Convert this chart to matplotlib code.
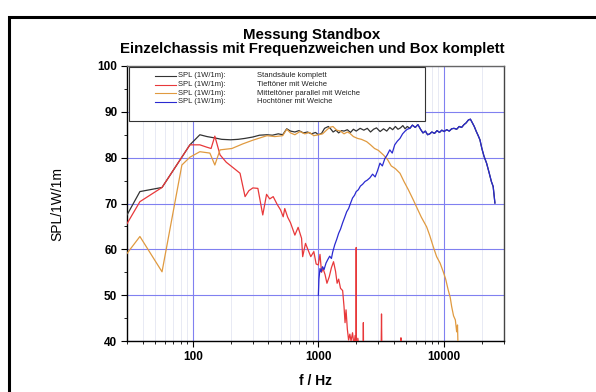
import matplotlib
matplotlib.use("Agg")
import matplotlib.pyplot as plt
from matplotlib.patches import Rectangle
from matplotlib.ticker import FixedLocator, LogLocator, NullFormatter

plt.rcParams["font.family"] = ["Liberation Sans", "DejaVu Sans"]

# --- data ----------------------------------------------------------------
f_komplett = [30, 38, 57, 95, 114, 130, 150, 170, 200, 230, 260, 300, 340, 390,
              430, 480, 520, 560, 600, 650, 700, 760, 820, 880, 950, 1000, 1060,
              1120, 1200, 1260, 1310, 1380, 1450, 1530, 1600, 1700, 1800, 1900,
              2000, 2150, 2300, 2450, 2600, 2750, 2900, 3100, 3300, 3500, 3700,
              3900, 4100, 4300, 4500, 4700, 4900, 5100, 5350, 5600, 5900, 6200,
              6500, 6800, 7100, 7400, 7700, 8000, 8400, 8800, 9200, 9600, 10000,
              10500, 11000, 11500, 12000, 12600, 13200, 13800, 14400, 15000,
              15600, 16200, 16800, 17400, 18000, 18700, 19300, 20000, 20800,
              21800, 22800, 23800, 24600, 25400]
spl_komplett = [67.5, 72.6, 73.5, 82.8, 85.0, 84.6, 84.3, 84.0, 83.9, 84.0, 84.2,
                84.5, 84.9, 85.0, 84.9, 85.2, 85.0, 86.3, 85.8, 85.6, 85.9, 85.4,
                85.6, 85.2, 85.5, 85.0, 85.3, 86.4, 86.8, 86.2, 85.6, 86.0, 85.4,
                85.9, 85.8, 86.1, 85.5, 86.2, 85.8, 86.4, 86.0, 86.4, 85.6, 86.2,
                86.5, 85.7, 86.3, 85.8, 86.6, 86.1, 86.8, 86.2, 86.5, 87.0, 86.3,
                86.8, 86.4, 87.1, 86.6, 87.2, 86.2, 85.4, 85.8, 85.0, 85.2, 85.6,
                85.3, 85.9, 85.5, 86.0, 85.7, 86.1, 85.8, 86.3, 86.4, 86.2, 86.8,
                86.6, 87.2, 87.6, 88.2, 88.4, 87.6, 86.8, 85.8, 84.8, 83.9, 82.0,
                80.3, 78.8, 76.8, 74.8, 73.7, 70.1]

f_tief = [30, 38, 57, 95, 114, 129, 140, 150, 165, 185, 210, 238, 261, 280, 301,
          330, 361, 387, 410, 437, 470, 500, 525, 540, 570, 600, 650, 690, 735,
          750, 790, 830, 870, 920, 960, 998, 1030, 1060, 1090, 1130, 1170, 1220,
          1270, 1320, 1370, 1410, 1450, 1500, 1560, 1600, 1630, 1660, 1700, 1740,
          1780, 1820, 1870, 1920, 1960, 1990, 2000, 2010, 2060, 2120, 2200, 2270,
          2280, 2290, 2400, 2600, 2900, 3150, 3180, 3210, 3500, 4000, 4500, 4540,
          4580, 5000]
spl_tief = [65.6, 70.4, 73.5, 82.8, 82.8, 82.3, 82.0, 84.7, 80.6, 79.0, 77.8,
            76.6, 71.5, 72.8, 73.4, 73.3, 67.5, 72.0, 71.0, 71.5, 69.8, 68.6,
            67.1, 68.9, 67.0, 65.8, 63.1, 64.8, 62.4, 58.4, 61.3, 59.8, 58.4,
            59.5, 56.8, 56.6, 58.9, 55.0, 55.8, 54.5, 52.6, 54.0, 56.0, 57.3,
            55.2, 52.6, 53.5, 51.5, 51.0, 47.5, 44.0, 46.8, 42.6, 40.2, 41.5,
            40.0, 41.8, 39.0, 41.2, 30.0, 60.4, 30.0, 40.6, 38.0, 36.0, 35.0,
            44.0, 35.0, 34.0, 33.0, 34.0, 35.0, 45.9, 35.0, 33.0, 34.0, 36.0,
            40.7, 36.0, 34.0]

f_mittel = [30, 38, 57, 82, 95, 114, 137, 150, 165, 205, 250, 300, 390, 450, 520,
            560, 600, 650, 713, 780, 850, 920, 1000, 1080, 1160, 1230, 1306, 1400,
            1500, 1600, 1700, 1783, 1900, 2050, 2200, 2420, 2600, 2800, 3000,
            3290, 3550, 3800, 4100, 4460, 4800, 5200, 5690, 6100, 6600, 7270,
            7700, 8200, 8730, 9300, 9860, 10300, 10800, 11200, 11500, 11900,
            12300, 12600, 12800, 12900, 13000]
spl_mittel = [59.1, 62.8, 55.1, 78.4, 80.1, 81.3, 81.0, 78.4, 81.7, 82.0, 83.0,
              83.8, 84.8, 84.6, 84.8, 86.2, 85.4, 85.0, 85.7, 85.2, 85.5, 84.8,
              85.0, 85.2, 86.0, 86.6, 86.8, 86.0, 85.8, 85.2, 85.6, 85.3, 84.6,
              84.2, 84.0, 83.5, 82.8, 82.0, 81.6, 80.6, 79.6, 78.2, 77.6, 76.6,
              74.8, 73.0, 70.8, 69.0, 67.0, 64.9, 63.0, 60.6, 58.4, 57.0, 55.1,
              53.5, 51.1, 49.5, 47.5, 45.5, 44.6, 42.0, 43.5, 39.5, 38.0]

f_hoch = [1000, 1010, 1030, 1050, 1080, 1110, 1150, 1190, 1230, 1270, 1300, 1350,
          1400, 1450, 1500, 1560, 1620, 1680, 1740, 1800, 1870, 1940, 2000, 2080,
          2160, 2250, 2350, 2450, 2570, 2700, 2830, 2960, 3090, 3230, 3380, 3530,
          3700, 3870, 4050, 4250, 4460, 4680, 4900, 5100, 5350, 5600, 5900, 6200,
          6500, 6800, 7100, 7400, 7700, 8000, 8400, 8800, 9200, 9600, 10000,
          10500, 11000, 11500, 12000, 12600, 13200, 13800, 14400, 15000, 15600,
          16200, 16800, 17400, 18000, 18700, 19300, 20000, 20800, 21800, 22800,
          23800, 24600, 25400]
spl_hoch = [50.0, 53.5, 55.8, 55.1, 56.2, 55.6, 57.0, 57.8, 58.5, 58.0, 59.4,
            61.0, 62.2, 63.5, 64.4, 65.8, 67.0, 68.2, 68.9, 70.0, 71.2, 71.8,
            72.6, 73.0, 73.8, 74.2, 74.8, 75.1, 75.6, 76.4, 75.8, 77.2, 78.8,
            78.2, 79.8, 80.6, 81.7, 81.0, 82.8, 83.6, 84.2, 85.2, 85.8, 86.2,
            86.4, 87.1, 86.6, 87.2, 86.2, 85.4, 85.8, 85.0, 85.2, 85.6, 85.3,
            85.9, 85.5, 86.0, 85.7, 86.1, 85.8, 86.3, 86.4, 86.2, 86.8, 86.6,
            87.2, 87.6, 88.2, 88.4, 87.6, 86.8, 85.8, 84.8, 83.9, 82.0, 80.3,
            78.8, 76.8, 74.8, 73.7, 70.1]

series = [
    (f_komplett, spl_komplett, "#333333", "Standsäule komplett"),
    (f_tief, spl_tief, "#e8383a", "Tieftöner mit Weiche"),
    (f_mittel, spl_mittel, "#e09a40", "Mitteltöner parallel mit Weiche"),
    (f_hoch, spl_hoch, "#2a2ad0", "Hochtöner mit Weiche"),
]
spl_label = "SPL (1W/1m):"

# --- figure ----------------------------------------------------------------
W, H = 596, 392
fig = plt.figure(figsize=(W / 100, H / 100), dpi=100)

# outer black frame (left/top visible, rest runs off the picture)
fig.patches.append(Rectangle((9 / W, -0.1), 1.2, 1 - 17 / H + 0.1,
                             transform=fig.transFigure, fill=False,
                             edgecolor="black", linewidth=2.2))

ax = fig.add_axes([127 / W, 1 - 341 / H, 377 / W, 275 / H])

for f, spl, color, _ in series:
    ax.plot(f, spl, color=color, linewidth=0.9, zorder=3)

ax.set_xscale("log")
ax.set_xlim(30, 30000)
ax.set_ylim(40, 100)
ax.xaxis.set_major_locator(FixedLocator([100, 1000, 10000]))
ax.xaxis.set_major_formatter(plt.FuncFormatter(lambda v, p: f"{v:.0f}"))
ax.xaxis.set_minor_locator(LogLocator(base=10, subs=range(2, 10)))
ax.xaxis.set_minor_formatter(NullFormatter())
ax.yaxis.set_major_locator(FixedLocator(range(40, 101, 10)))
ax.yaxis.set_minor_locator(FixedLocator(range(45, 100, 10)))

ax.grid(which="major", color="#8080f0", linewidth=0.8, zorder=1)
ax.grid(which="minor", axis="x", color="#e4e6f2", linewidth=0.6, zorder=0)
ax.set_axisbelow(True)

ax.tick_params(which="major", direction="out", length=4, width=0.8,
               labelsize=8.5, pad=3)
ax.tick_params(which="minor", direction="out", length=2.5, width=0.6)
for lab in ax.get_xticklabels() + ax.get_yticklabels():
    lab.set_fontweight("bold")
for s in ax.spines.values():
    s.set_linewidth(1.0)
ax.spines["top"].set_color("#666666")
ax.spines["right"].set_color("#444444")

ax.set_xlabel("f / Hz", fontsize=10, fontweight="bold", labelpad=8)
ax.set_ylabel("SPL/1W/1m", fontsize=10, labelpad=24)

fig.text(312 / W, 1 - 35 / H, "Messung Standbox", ha="center", va="center",
         fontsize=10.8, fontweight="bold")
fig.text(312 / W, 1 - 49 / H,
         "Einzelchassis mit Frequenzweichen und Box komplett",
         ha="center", va="center", fontsize=10.8, fontweight="bold")

# --- legend box (drawn by hand to get the two text columns) ---------------
ax.add_patch(Rectangle((0.005, 0.80), 0.785, 0.195, transform=ax.transAxes,
                       facecolor="white", edgecolor="#333333", linewidth=0.8,
                       zorder=5))
row_y = [0.965, 0.932, 0.901, 0.870]
for (f, spl, color, desc), y in zip(series, row_y):
    ax.plot([0.074, 0.130], [y, y], color=color, linewidth=0.8,
            transform=ax.transAxes, zorder=6)
    ax.text(0.134, y, spl_label, transform=ax.transAxes, fontsize=5.5,
            va="center", color="#222222", zorder=6)
    ax.text(0.345, y, desc, transform=ax.transAxes, fontsize=5.5,
            va="center", color="#222222", zorder=6)

fig.savefig("out.png", dpi=100)
